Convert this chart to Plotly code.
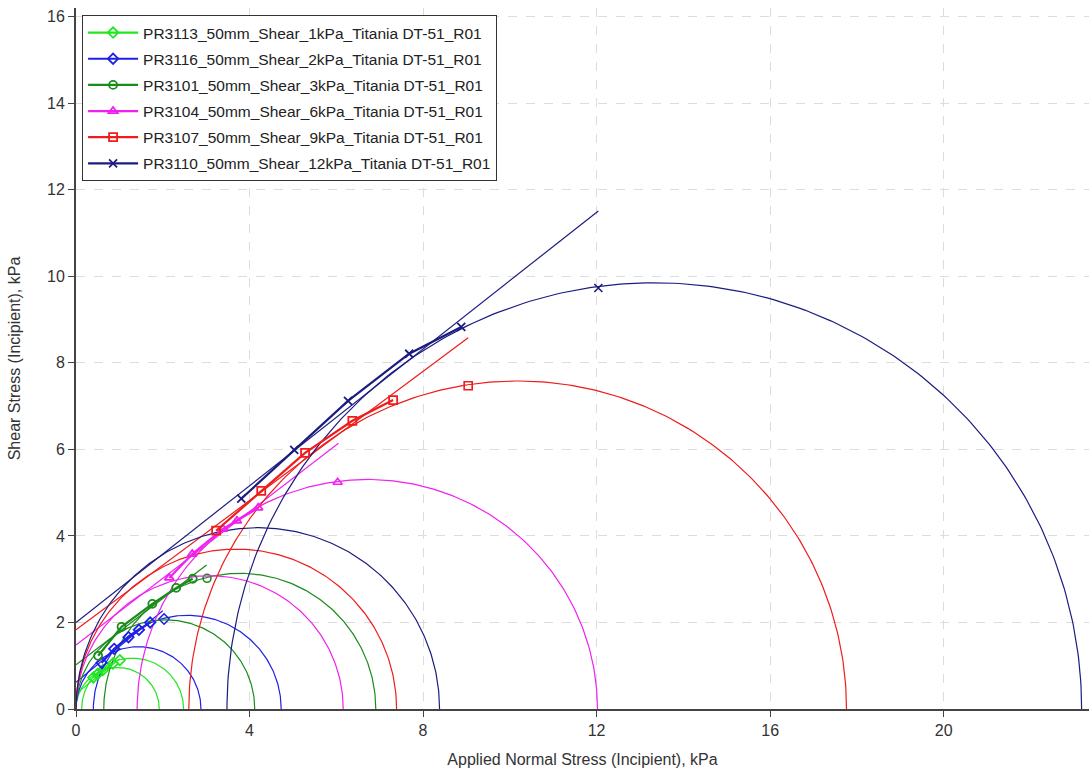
import numpy as np
import plotly.graph_objects as go

# ---------------- data ----------------
series_names = [
    "PR3113_50mm_Shear_1kPa_Titania DT-51_R01",
    "PR3116_50mm_Shear_2kPa_Titania DT-51_R01",
    "PR3101_50mm_Shear_3kPa_Titania DT-51_R01",
    "PR3104_50mm_Shear_6kPa_Titania DT-51_R01",
    "PR3107_50mm_Shear_9kPa_Titania DT-51_R01",
    "PR3110_50mm_Shear_12kPa_Titania DT-51_R01",
]
colors = ["#22e622", "#1f1fe8", "#1a8c1a", "#f020f0", "#ee1c1c", "#1c1c80"]
symbols = ["diamond-open", "diamond-open", "circle-open", "triangle-up-open", "square-open", "x-thin"]

# yield locus points (normal stress, shear stress), kPa
yl_sigma = [
    [0.40, 0.50, 0.62, 0.85],
    [0.59, 0.88, 1.21, 1.45, 1.71],
    [0.51, 1.05, 1.76, 2.31, 2.69],
    [2.15, 2.68, 3.39, 3.71, 4.20],
    [3.23, 4.27, 5.28, 6.37, 7.31],
    [3.81, 5.03, 6.27, 7.68, 8.88],
]
yl_tau = [
    [0.73, 0.81, 0.90, 1.05],
    [1.07, 1.39, 1.66, 1.83, 2.00],
    [1.23, 1.90, 2.43, 2.80, 3.01],
    [3.03, 3.58, 4.16, 4.35, 4.65],
    [4.12, 5.04, 5.92, 6.66, 7.14],
    [4.86, 5.99, 7.12, 8.21, 8.83],
]
# pre-shear points
pre_sigma = [1.01, 2.03, 3.02, 6.03, 9.04, 12.04]
pre_tau = [1.13, 2.08, 3.02, 5.24, 7.47, 9.73]

# linear yield locus fits: intercept (cohesion) and end point
fit_c = [0.35, 0.62, 1.02, 1.48, 1.83, 2.00]
fit_end_sigma = [1.01, 2.00, 3.01, 6.05, 9.04, 12.04]
fit_end_tau = [1.16, 2.27, 3.33, 6.14, 8.58, 11.51]

# Mohr circles: unconfined yield strength fc, and consolidation sigma2 / sigma1
fc = [1.92, 2.88, 4.12, 6.16, 7.39, 8.38]
sigma2 = [0.13, 0.40, 0.64, 1.41, 2.60, 3.48]
sigma1 = [2.48, 4.73, 6.91, 12.02, 17.76, 23.18]

x_ticks = [0, 4, 8, 12, 16, 20]
y_ticks = [0, 2, 4, 6, 8, 10, 12, 14, 16]

# ---------------- figure ----------------
fig = go.Figure()


def semicircle(a, b, n=240):
    c = (a + b) / 2.0
    r = (b - a) / 2.0
    t = np.linspace(0, np.pi, n)
    return c + r * np.cos(t), r * np.sin(t)


for i, name in enumerate(series_names):
    col = colors[i]
    # circles
    for a, b in [(0.0, fc[i]), (sigma2[i], sigma1[i])]:
        cx, cy = semicircle(a, b)
        fig.add_trace(go.Scatter(x=cx, y=cy, mode="lines",
                                 line=dict(color=col, width=1.2),
                                 showlegend=False, hoverinfo="skip"))
    # fitted line
    fig.add_trace(go.Scatter(x=[0, fit_end_sigma[i]], y=[fit_c[i], fit_end_tau[i]],
                             mode="lines", line=dict(color=col, width=1.2),
                             showlegend=False, hoverinfo="skip"))
    # pre-shear point
    fig.add_trace(go.Scatter(x=[pre_sigma[i]], y=[pre_tau[i]], mode="markers",
                             marker=dict(symbol=symbols[i], size=8, color=col,
                                         line=dict(color=col, width=1.6)),
                             showlegend=False, hoverinfo="skip"))

# yield loci with legend (drawn on top)
for i, name in enumerate(series_names):
    col = colors[i]
    fig.add_trace(go.Scatter(x=yl_sigma[i], y=yl_tau[i], mode="lines+markers",
                             name=name, legendgroup=f"g{i}",
                             line=dict(color=col, width=2.2),
                             marker=dict(symbol=symbols[i], size=8, color=col,
                                         line=dict(color=col, width=1.8))))

tick_font = dict(family="Liberation Sans, Arial, sans-serif", size=16, color="#333333")
title_font = dict(family="Liberation Sans, Arial, sans-serif", size=16, color="#333333")

fig.update_layout(
    width=1091, height=774,
    margin=dict(l=76, r=2, t=8, b=65),
    plot_bgcolor="white", paper_bgcolor="white",
    font=dict(family="Liberation Sans, Arial, sans-serif", size=15, color="#222222"),
    legend=dict(x=0.006, y=0.99, xanchor="left", yanchor="top",
                bgcolor="white", bordercolor="#333333", borderwidth=1,
                font=dict(size=15.5, color="#222222"), tracegroupgap=3,
                itemwidth=50),
    xaxis=dict(range=[0, 23.35], tickvals=x_ticks, ticks="outside", ticklen=6,
               tickcolor="#444444", showline=True, linecolor="#444444", linewidth=2,
               zeroline=False, showgrid=True, gridcolor="#dcdcdc", griddash="dash",
               gridwidth=1, tickfont=tick_font,
               title=dict(text="Applied Normal Stress (Incipient), kPa",
                          font=title_font, standoff=16)),
    yaxis=dict(range=[0, 16.2], tickvals=y_ticks, ticks="outside", ticklen=6,
               tickcolor="#444444", showline=True, linecolor="#444444", linewidth=2,
               zeroline=False, showgrid=True, gridcolor="#dcdcdc", griddash="dash",
               gridwidth=1, tickfont=tick_font,
               title=dict(text="Shear Stress (Incipient), kPa",
                          font=title_font, standoff=22)),
)

fig.write_html("out.html")
